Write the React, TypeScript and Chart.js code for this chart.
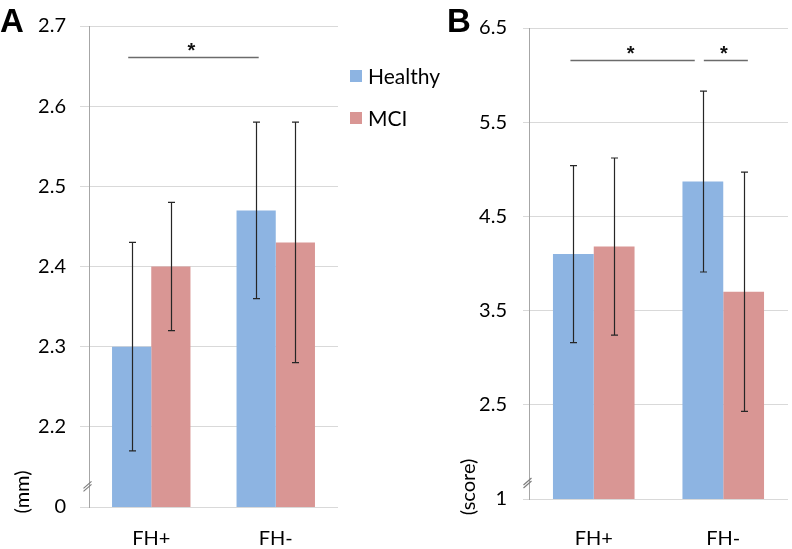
import React, { useEffect, useRef } from "react";
import { Chart, registerables } from "chart.js";
Chart.register(...registerables);

const categories = ["FH+", "FH-"];
const seriesNames = ["Healthy", "MCI"];
const seriesColors = ["#8DB4E2", "#D99694"];

const healthyA = [2.3, 2.47];
const mciA = [2.4, 2.43];
const healthyAErr = [0.13, 0.11];
const mciAErr = [0.08, 0.15];
const tickValuesA = [2.1, 2.2, 2.3, 2.4, 2.5, 2.6, 2.7];
const tickLabelsA = ["0", "2.2", "2.3", "2.4", "2.5", "2.6", "2.7"];

const healthyB = [4.1, 4.87];
const mciB = [4.18, 3.7];
const healthyBErr = [0.94, 0.96];
const mciBErr = [0.94, 1.27];
const tickValuesB = [1.5, 2.5, 3.5, 4.5, 5.5, 6.5];
const tickLabelsB = ["1", "2.5", "3.5", "4.5", "5.5", "6.5"];

// significance brackets: fractional category positions and level in data units
const sigA = [{ from: -0.185, to: 0.863, y: 2.661 }];
const sigB = [
  { from: -0.18, to: 0.78, y: 6.16 },
  { from: 0.85, to: 1.19, y: 6.16 },
];

const FONT = "Lato, 'Open Sans', sans-serif";

const overlay = {
  id: "overlay",
  afterDatasetsDraw(chart: any, _args: any, opts: any) {
    const ctx = chart.ctx;
    const xs = chart.scales.x;
    const ys = chart.scales.y;
    ctx.save();
    // error bars
    ctx.strokeStyle = "#262626";
    ctx.lineWidth = 1.2;
    chart.data.datasets.forEach((ds: any, di: number) => {
      const meta = chart.getDatasetMeta(di);
      meta.data.forEach((bar: any, i: number) => {
        const v = ds.data[i];
        const e = ds.errors[i];
        const yt = ys.getPixelForValue(v + e);
        const yb = ys.getPixelForValue(v - e);
        const bx = Math.round(bar.x) + 0.5;
        ctx.beginPath();
        ctx.moveTo(bx, yt);
        ctx.lineTo(bx, yb);
        ctx.moveTo(bx - 3.5, yt);
        ctx.lineTo(bx + 3.5, yt);
        ctx.moveTo(bx - 3.5, yb);
        ctx.lineTo(bx + 3.5, yb);
        ctx.stroke();
      });
    });
    // significance lines
    const c0 = xs.getPixelForValue(0);
    const c1 = xs.getPixelForValue(1);
    (opts.sig || []).forEach((s: any) => {
      const x1 = c0 + s.from * (c1 - c0);
      const x2 = c0 + s.to * (c1 - c0);
      const yy = Math.round(ys.getPixelForValue(s.y)) + 0.5;
      ctx.strokeStyle = "#6b6b6b";
      ctx.lineWidth = 1.4;
      ctx.beginPath();
      ctx.moveTo(x1, yy);
      ctx.lineTo(x2, yy);
      ctx.stroke();
      ctx.fillStyle = "#111";
      ctx.font = "bold 20px 'Liberation Sans', Arial, sans-serif";
      ctx.textAlign = "center";
      ctx.textBaseline = "alphabetic";
      ctx.fillText("*", (x1 + x2) / 2 - 2, yy - 1);
    });
    ctx.restore();
  },
  afterDraw(chart: any, _args: any, opts: any) {
    const ctx = chart.ctx;
    const ys = chart.scales.y;
    const ax = Math.round(chart.chartArea.left) + 0.5;
    ctx.save();
    // axis break marks
    const yb = ys.getPixelForValue(opts.breakAt);
    ctx.strokeStyle = "#7f7f7f";
    ctx.lineWidth = 1.2;
    ctx.beginPath();
    ctx.moveTo(ax - 6, yb + 3);
    ctx.lineTo(ax + 2, yb - 4);
    ctx.moveTo(ax - 6, yb + 6);
    ctx.lineTo(ax + 2, yb - 1);
    ctx.stroke();
    // panel letter
    ctx.fillStyle = "#000";
    ctx.font = "bold 33px 'Liberation Sans', Arial, sans-serif";
    ctx.textAlign = "left";
    ctx.textBaseline = "alphabetic";
    ctx.fillText(opts.letter, opts.letterX, opts.letterY);
    // unit label
    ctx.font = "20px " + FONT;
    ctx.translate(opts.unitX, opts.unitY);
    ctx.rotate(-Math.PI / 2);
    ctx.textAlign = "center";
    ctx.textBaseline = "middle";
    ctx.fillText(opts.unit, 0, 0);
    ctx.setTransform(1, 0, 0, 1, 0, 0);
    // legend
    if (opts.legend) {
      const L = opts.legend;
      seriesNames.forEach((name, i) => {
        const cy = L.y + i * L.gap;
        ctx.fillStyle = seriesColors[i];
        ctx.fillRect(L.x, cy - 6, 12, 12);
        ctx.fillStyle = "#000";
        ctx.font = "21px " + FONT;
        ctx.textAlign = "left";
        ctx.textBaseline = "middle";
        ctx.fillText(name, L.x + 18, cy + 1);
      });
    }
    ctx.restore();
  },
};

function makeConfig(p: any) {
  return {
    type: "bar",
    data: {
      labels: categories,
      datasets: [
        { label: seriesNames[0], data: p.healthy, errors: p.healthyErr, backgroundColor: seriesColors[0] },
        { label: seriesNames[1], data: p.mci, errors: p.mciErr, backgroundColor: seriesColors[1] },
      ],
    },
    options: {
      responsive: false,
      animation: false,
      layout: { padding: { top: p.top, right: p.right, left: 0, bottom: 0 } },
      datasets: { bar: { barPercentage: 1, categoryPercentage: 0.63 } },
      plugins: {
        legend: { display: false },
        tooltip: { enabled: false },
        overlay: p.overlay,
      },
      scales: {
        x: {
          grid: { display: false, drawTicks: false },
          border: { display: false },
          ticks: { color: "#000", font: { family: FONT, size: 20 }, padding: p.xPad },
          afterFit: (s: any) => { s.height = p.xHeight; },
        },
        y: {
          min: p.ticks[0],
          max: p.ticks[p.ticks.length - 1],
          afterBuildTicks: (axis: any) => { axis.ticks = p.ticks.map((v: number) => ({ value: v })); },
          afterFit: (s: any) => { s.width = p.yWidth; },
          grid: { color: "#D9D9D9", lineWidth: 1, tickLength: p.tickLen, drawTicks: true },
          border: { display: true, color: "#A6A6A6", width: 1 },
          ticks: {
            autoSkip: false,
            color: "#000",
            font: { family: FONT, size: 20 },
            padding: p.yPad,
            callback: (_v: any, i: number) => p.labels[i],
          },
        },
      },
    },
    plugins: [overlay],
  };
}

export default function App() {
  const refA = useRef<HTMLCanvasElement>(null);
  const refB = useRef<HTMLCanvasElement>(null);
  useEffect(() => {
    const a = new Chart(refA.current as any, makeConfig({
      healthy: healthyA, mci: mciA, healthyErr: healthyAErr, mciErr: mciAErr,
      ticks: tickValuesA, labels: tickLabelsA,
      top: 25, right: 107, yWidth: 89, xHeight: 42, xPad: 20, yPad: 14, tickLen: 9,
      overlay: {
        sig: sigA, breakAt: 2.127, letter: "A", letterX: 0, letterY: 32,
        unit: "(mm)", unitX: 23, unitY: 492,
        legend: { x: 350, y: 76, gap: 42 },
      },
    }) as any);
    const b = new Chart(refB.current as any, makeConfig({
      healthy: healthyB, mci: mciB, healthyErr: healthyBErr, mciErr: mciBErr,
      ticks: tickValuesB, labels: tickLabelsB,
      top: 24, right: 4, yWidth: 84, xHeight: 50, xPad: 28, yPad: 16, tickLen: 6,
      overlay: {
        sig: sigB, breakAt: 1.68, letter: "B", letterX: 2, letterY: 32,
        unit: "(score)", unitX: 24, unitY: 487,
      },
    }) as any);
    return () => { a.destroy(); b.destroy(); };
  }, []);
  return (
    <div style={{ position: "fixed", left: 0, top: 0, width: 792, height: 549, background: "#fff" }}>
      <canvas ref={refA} width={445} height={549} style={{ position: "absolute", left: 0, top: 0 }} />
      <canvas ref={refB} width={347} height={549} style={{ position: "absolute", left: 445, top: 0 }} />
    </div>
  );
}
